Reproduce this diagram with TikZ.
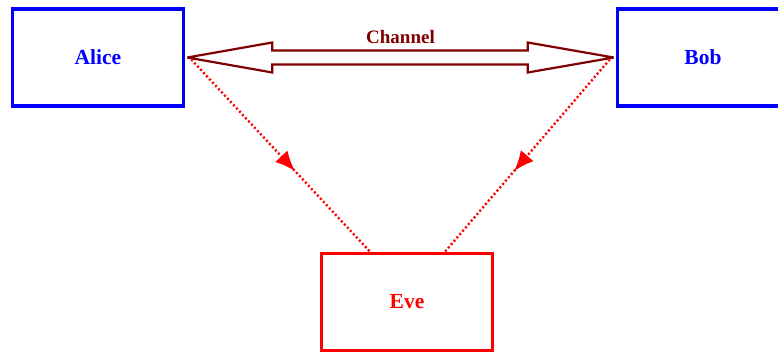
\documentclass[tikz,border=0pt]{standalone}
\usepackage{fontspec}
\setmainfont{Liberation Serif}
\usetikzlibrary{calc,arrows.meta,decorations.markings}
\definecolor{chanred}{RGB}{128,0,0}
\definecolor{pureblue}{RGB}{0,0,255}
\definecolor{purered}{RGB}{255,0,0}
\tikzset{
  x=1pt,y=1pt,
  party/.style={draw=pureblue,line width=3.6pt,minimum width=171pt,minimum height=97pt,inner sep=0pt,
    font=\bfseries\fontsize{21.5}{24}\selectfont,text=pureblue},
  spy/.style={party,draw=purered,text=purered},
  chan/.style={draw=chanred,line width=2.2pt,line join=miter,miter limit=4},
  leak/.style={draw=purered,line width=2.4pt,dash pattern=on 2pt off 2.4pt,
    postaction={decorate},
    decoration={markings,mark=at position 0.58 with {\arrow[purered]{Latex[length=20pt,width=17pt]}}}}
}
\begin{document}
\begin{tikzpicture}
\useasboundingbox (0,0) rectangle (778,-354);
\clip (0,0) rectangle (778,-354);
\node[party] (Alice) at (98,-57.5) {Alice};
\node[party] (Bob) at (703,-57.5) {Bob};
\node[spy] (Eve) at (407,-302) {Eve};
\coordinate (tipL) at ($(Alice.east)+(2,0)$);
\coordinate (tipR) at ($(Bob.west)+(-2,0)$);
\draw[chan] (tipL) -- ($(tipL)+(85,15)$) -- ($(tipL)+(85,7)$) -- ($(tipR)+(-86,7)$) -- ($(tipR)+(-86,15)$) -- (tipR)
  -- ($(tipR)+(-86,-15)$) -- ($(tipR)+(-86,-7)$) -- ($(tipL)+(85,-7)$) -- ($(tipL)+(85,-15)$) -- cycle;
\node[font=\bfseries\fontsize{19}{22}\selectfont,text=chanred] (chanlabel) at ($(tipL)!0.5!(tipR)+(0,21)$) {Channel};
\coordinate (eveL) at ($(Eve.north)+(-37,0)$);
\coordinate (eveR) at ($(Eve.north)+(38,0)$);
\draw[leak] ($(Alice.east)+(6,-2)$) -- (eveL);
\draw[leak] ($(Bob.west)+(-6,-2)$) -- (eveR);
\end{tikzpicture}
\end{document}
